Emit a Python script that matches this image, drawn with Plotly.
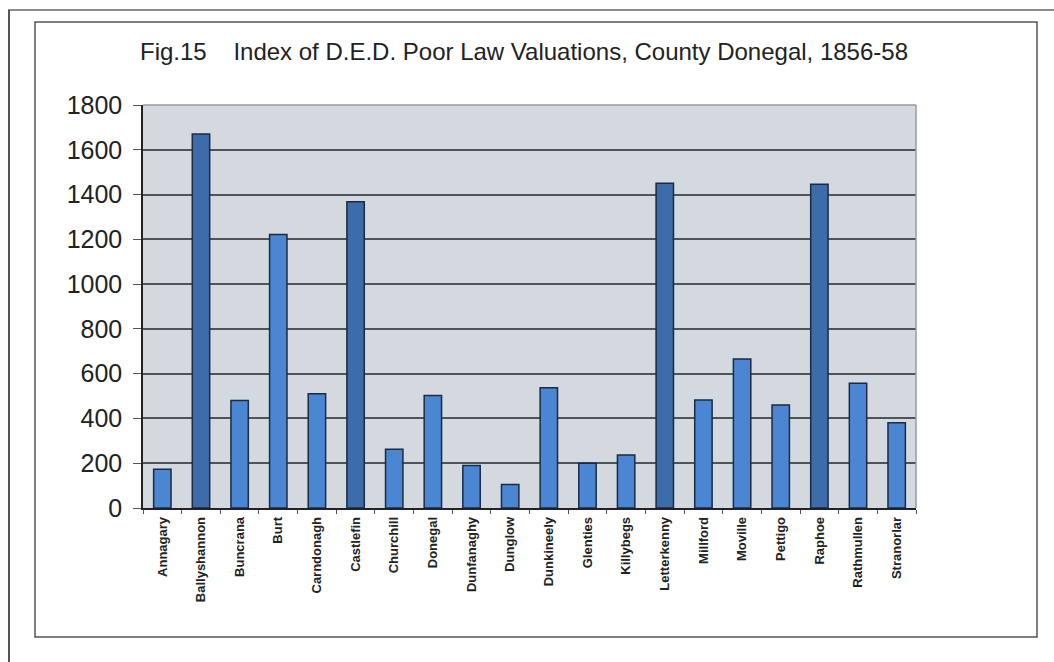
import plotly.graph_objects as go

categories = ["Annagary", "Ballyshannon", "Buncrana", "Burt", "Carndonagh", "Castlefin",
              "Churchill", "Donegal", "Dunfanaghy", "Dunglow", "Dunkineely", "Glenties",
              "Killybegs", "Letterkenny", "Millford", "Moville", "Pettigo", "Raphoe",
              "Rathmullen", "Stranorlar"]
values = [173, 1670, 480, 1222, 510, 1368, 262, 502, 190, 105, 537, 200, 237, 1450,
          482, 665, 460, 1446, 557, 381]
y_ticks = [0, 200, 400, 600, 800, 1000, 1200, 1400, 1600, 1800]
title_text = "Fig.15\u00a0\u00a0\u00a0\u00a0Index of D.E.D. Poor Law Valuations, County Donegal, 1856-58"

W, H = 1054, 662
L, R, T, B = 143, 916, 105, 508

colors = ["#3d6cab" if v > 1300 else "#4a86d2" for v in values]

fig = go.Figure()
fig.add_trace(go.Bar(
    x=categories, y=values,
    marker=dict(color=colors, line=dict(color="#1b2a45", width=1.5)),
    hoverinfo="x+y",
))

def px(x):
    return (x - L) / (R - L)

def py(y):
    return (B - y) / (B - T)

shapes = [
    dict(type="rect", xref="paper", yref="paper", x0=px(35), x1=px(1037), y0=py(637), y1=py(22),
         line=dict(color="#555555", width=1.5), layer="below"),
    dict(type="line", xref="paper", yref="paper", x0=px(8), x1=px(1054), y0=py(10), y1=py(10),
         line=dict(color="#666666", width=1.5)),
    dict(type="line", xref="paper", yref="paper", x0=px(9), x1=px(9), y0=py(10), y1=py(662),
         line=dict(color="#555555", width=2)),
    dict(type="line", xref="paper", yref="paper", x0=0, x1=1, y0=1, y1=1,
         line=dict(color="#9a9a9a", width=1.5)),
    dict(type="line", xref="paper", yref="paper", x0=1, x1=1, y0=0, y1=1,
         line=dict(color="#9a9a9a", width=1.5)),
]

fig.update_layout(
    width=W, height=H,
    margin=dict(l=L, r=W - R, t=T, b=H - B, autoexpand=False),
    paper_bgcolor="white",
    plot_bgcolor="#d3d9de",
    bargap=0.55,
    showlegend=False,
    shapes=shapes,
    title=dict(text=title_text, x=140 / W, xref="container", xanchor="left",
               y=1 - 52 / H, yref="container", yanchor="middle",
               font=dict(family="Liberation Sans, Arial", size=24, color="#222222")),
    xaxis=dict(
        type="category", tickangle=-90, tickson="boundaries",
        ticks="outside", ticklen=4, tickcolor="#555555",
        showline=True, linecolor="#222222", linewidth=1.5,
        showgrid=False,
        tickfont=dict(family="Liberation Sans, Arial", size=13, color="#222222"),
        ticklabelstandoff=2,
    ),
    yaxis=dict(
        range=[0, 1800], tickvals=y_ticks, ticktext=[str(v) for v in y_ticks],
        ticks="outside", ticklen=8, tickcolor="#555555",
        showline=True, linecolor="#222222", linewidth=1.5,
        showgrid=True, gridcolor="#4f5458", gridwidth=1.5,
        zeroline=False,
        tickfont=dict(family="Liberation Sans, Arial", size=25, color="#222222"),
        ticklabelstandoff=6,
    ),
)

fig.update_xaxes(tickprefix="<b>", ticksuffix="</b>")

fig.write_html("out.html")
